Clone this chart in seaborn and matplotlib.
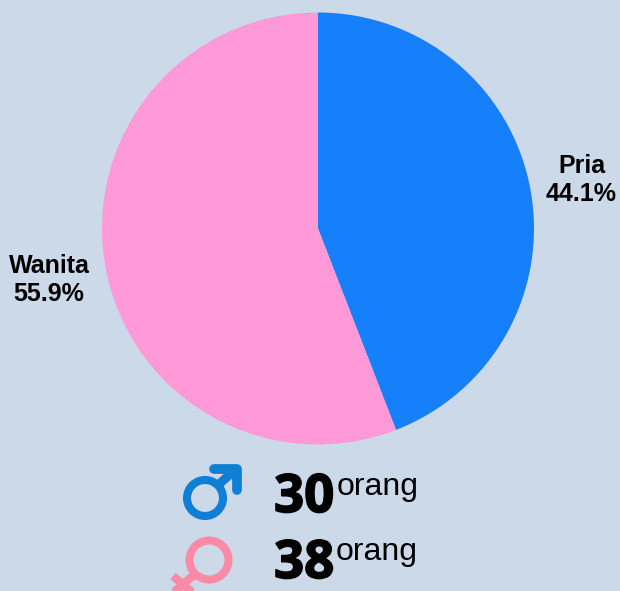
import matplotlib.pyplot as plt
import matplotlib.patheffects as pe
import seaborn as sns
from matplotlib.patches import Circle

labels = ["Pria", "Wanita"]
counts = [30, 38]
colors = ["#167ffa", "#ff99d8"]
unit = "orang"

sns.set_theme(style="white")
plt.rcParams["font.family"] = ["Liberation Sans", "DejaVu Sans"]

bg = "#cbd9e8"
W, H = 620, 591
fig = plt.figure(figsize=(W / 100, H / 100), dpi=100, facecolor=bg)

# pie axes, square around the circle
ax = fig.add_axes([102 / W, 1 - 444.5 / H, 432 / W, 432 / H])
ax.pie(counts, colors=colors, startangle=90, counterclock=False, radius=1.0,
       wedgeprops={"linewidth": 0, "edgecolor": "none"})
ax.set_xlim(-1, 1)
ax.set_ylim(-1, 1)

total = sum(counts)
fig.text(581.5 / W, 1 - 180 / H, f"{labels[0]}\n{counts[0] / total * 100:.1f}%",
         ha="center", va="center", fontsize=18, fontweight="bold", color="black", linespacing=1.2)
fig.text(49 / W, 1 - 280 / H, f"{labels[1]}\n{counts[1] / total * 100:.1f}%",
         ha="center", va="center", fontsize=18, fontweight="bold", color="black", linespacing=1.2)

# overlay in pixel coordinates for the gender icons and counts
ov = fig.add_axes([0, 0, 1, 1], facecolor="none")
ov.set_xlim(0, W)
ov.set_ylim(H, 0)
ov.axis("off")

male = "#0f7fd6"
ov.add_patch(Circle((205, 498), 18, fill=False, ec=male, lw=5.8))
ov.plot([218, 235], [485, 470], color=male, lw=6.5, solid_capstyle="butt")
ov.plot([214, 237, 237], [468.5, 468.5, 490], color=male, lw=7, solid_capstyle="round",
        solid_joinstyle="round")

female = "#fb8aa6"
ov.add_patch(Circle((209, 560), 19.5, fill=False, ec=female, lw=5.8))
ov.plot([195, 174], [574, 592], color=female, lw=6, solid_capstyle="butt")
ov.plot([173, 192], [576, 592], color=female, lw=6, solid_capstyle="butt")

for y, n in zip([498, 564], counts):
    ov.text(274, y, str(n), ha="left", va="center", fontsize=38, fontweight="bold",
            family=["Open Sans", "DejaVu Sans"], color="black",
            path_effects=[pe.withStroke(linewidth=1.2, foreground="black")])
for y, x in zip([487, 552], [337, 336]):
    ov.text(x, y, unit, ha="left", va="center", fontsize=23, color="black")

fig.savefig("out.png", dpi=100, facecolor=bg)
